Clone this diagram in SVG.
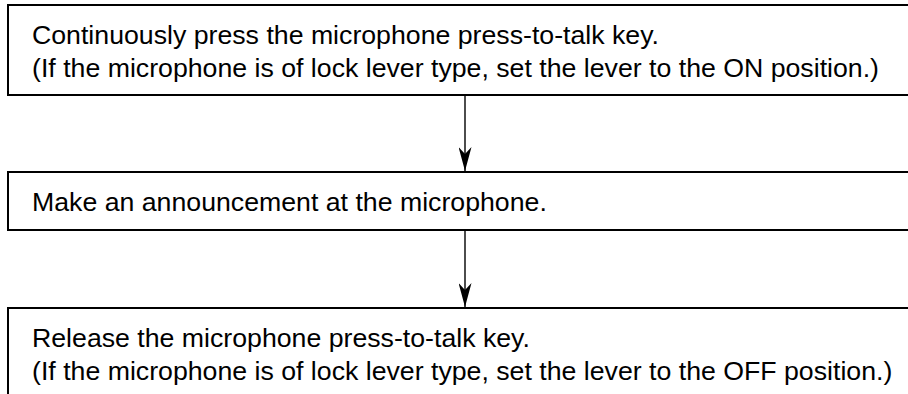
<svg xmlns="http://www.w3.org/2000/svg" width="908" height="394" viewBox="0 0 908 394">
  <defs>
    <style>
      .box { fill: #ffffff; stroke: #000000; stroke-width: 2; }
      .txt { font-family: "Liberation Sans", Arial, Helvetica, sans-serif; font-size: 26.7px; fill: #000000; }
      .conn { stroke: #000000; stroke-width: 1.4; fill: none; }
    </style>
    <marker id="arrow" viewBox="0 0 24 13" refX="24" refY="6.5" markerWidth="24" markerHeight="13" markerUnits="userSpaceOnUse" orient="auto">
      <path d="M0,0 L24,6.5 L0,13 L7,6.5 Z" fill="#000000"/>
    </marker>
  </defs>
  <rect width="908" height="394" fill="#ffffff"/>

  <g id="node-press">
    <rect class="box" x="8" y="5" width="920" height="90"/>
    <text class="txt" x="32" y="44">Continuously press the microphone press-to-talk key.</text>
    <text class="txt" x="32" y="77">(If the microphone is of lock lever type, set the lever to the ON position.)</text>
  </g>

  <g id="node-announce">
    <rect class="box" x="8" y="172" width="920" height="58"/>
    <text class="txt" x="32" y="211">Make an announcement at the microphone.</text>
  </g>

  <g id="node-release">
    <rect class="box" x="8" y="308" width="920" height="120"/>
    <text class="txt" x="32" y="347">Release the microphone press-to-talk key.</text>
    <text class="txt" x="32" y="380">(If the microphone is of lock lever type, set the lever to the OFF position.)</text>
  </g>

  <g id="connectors">
    <line class="conn" x1="465" y1="95" x2="465" y2="171" marker-end="url(#arrow)"/>
    <line class="conn" x1="465" y1="230" x2="465" y2="307" marker-end="url(#arrow)"/>
  </g>
</svg>
